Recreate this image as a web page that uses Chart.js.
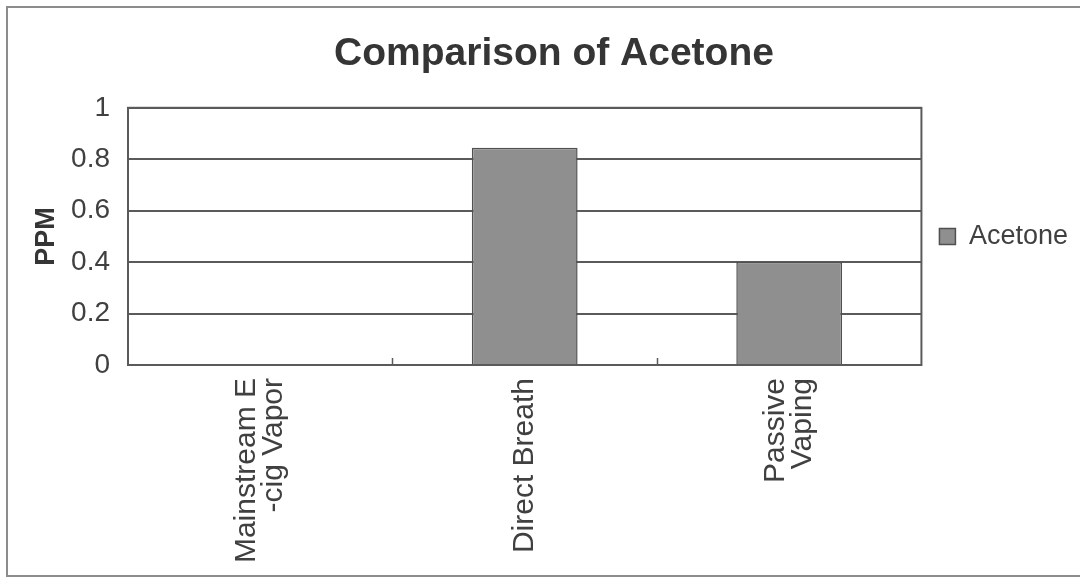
<!DOCTYPE html>
<html>
<head>
<meta charset="utf-8">
<script src="https://cdn.jsdelivr.net/npm/chart.js@4/dist/chart.umd.min.js"></script>
<style>
  html, body { margin: 0; padding: 0; background: #fff; overflow: hidden; }
  #wrap { position: relative; width: 1080px; height: 581px; }
  #frame { position: absolute; left: 6px; top: 6px; width: 1090px; height: 571px;
           border: 2px solid #8c8c8c; box-sizing: border-box; pointer-events: none; }
</style>
</head>
<body>
<div id="wrap">
  <canvas id="chart" width="1080" height="581"></canvas>
  <div id="frame"></div>
</div>
<script>
// Comparison of Acetone — single-series column chart
const CATEGORIES = [['Mainstream E', '-cig Vapor'], 'Direct Breath', ['Passive', 'Vaping']];
const ACETONE = [0, 0.845, 0.40];
const Y_TICKS = [0, 0.2, 0.4, 0.6, 0.8, 1];

const TEXT = '#404040';
const LINE = '#5a5a5a';
const FONT = "'Liberation Sans', Arial, sans-serif";

// plot frame plus Excel-style inward tick marks between categories
const framePlugin = {
    id: 'frame',
    afterLayout(chart) {
        // centre the legend on the plot area, as Excel does
        const l = chart.legend, a = chart.chartArea;
        l.top = a.top;
        l.bottom = a.bottom;
        l.height = a.bottom - a.top;
    },
    beforeDraw(chart) {
        // Chart.js hangs extra lines of rotated labels off one side; centre them on the tick
        const x = chart.scales.x;
        x._labelItems = x._computeLabelItems(chart.chartArea);
        const lh = x.options.ticks.font.size * x.options.ticks.font.lineHeight;
        x._labelItems.forEach(item => {
            if (Array.isArray(item.label)) {
                item.options.translation[0] -= (item.label.length - 1) * lh / 2;
            }
        });
    },
    afterDatasetsDraw(chart) {
        const { ctx, chartArea: a, scales: { x } } = chart;
        ctx.save();
        ctx.strokeStyle = LINE;
        ctx.lineWidth = 2;
        ctx.strokeRect(a.left, a.top, a.right - a.left, a.bottom - a.top);
        ctx.lineWidth = 1.5;
        for (let i = 0; i < CATEGORIES.length - 1; i++) {
            const px = Math.round((x.getPixelForTick(i) + x.getPixelForTick(i + 1)) / 2) + 0.5;
            ctx.beginPath();
            ctx.moveTo(px, a.bottom);
            ctx.lineTo(px, a.bottom - 7);
            ctx.stroke();
        }
        ctx.restore();
    }
};

new Chart(document.getElementById('chart'), {
    type: 'bar',
    data: {
        labels: CATEGORIES,
        datasets: [{
            label: 'Acetone',
            data: ACETONE,
            backgroundColor: '#8f8f8f',
            borderColor: '#505050',
            borderWidth: 1.5,
            categoryPercentage: 1,
            barPercentage: 0.4
        }]
    },
    options: {
        responsive: false,
        animation: false,
        layout: { padding: { left: 30, right: 2, top: 0, bottom: 0 } },
        plugins: {
            title: {
                display: true,
                text: 'Comparison of Acetone',
                color: '#353535',
                font: { family: FONT, size: 39, weight: 'bold' },
                padding: { top: 31, bottom: 30 }
            },
            legend: {
                position: 'right',
                align: 'center',
                labels: {
                    color: TEXT,
                    font: { family: FONT, size: 27 },
                    boxWidth: 16,
                    boxHeight: 16,
                    padding: 18
                }
            },
            tooltip: { enabled: false }
        },
        scales: {
            x: {
                offset: true,
                grid: { display: false },
                border: { display: false },
                ticks: {
                    color: TEXT,
                    font: { family: FONT, size: 30, lineHeight: 0.9 },
                    maxRotation: 90,
                    minRotation: 90,
                    padding: 5
                },
                afterFit(scale) { scale.height = 216; }
            },
            y: {
                min: 0,
                max: 1,
                afterBuildTicks(scale) { scale.ticks = Y_TICKS.map(v => ({ value: v })); },
                grid: { color: LINE, lineWidth: 2, drawTicks: false },
                border: { display: false },
                ticks: {
                    color: TEXT,
                    font: { family: FONT, size: 28 },
                    padding: 18,
                    callback: (v) => String(v)
                },
                title: {
                    display: true,
                    text: 'PPM',
                    color: '#353535',
                    font: { family: FONT, size: 27, weight: 'bold' },
                    padding: { top: 0, bottom: 0 }
                },
                afterFit(scale) { scale.width = 98; }
            }
        }
    },
    plugins: [framePlugin]
});
</script>
</body>
</html>
